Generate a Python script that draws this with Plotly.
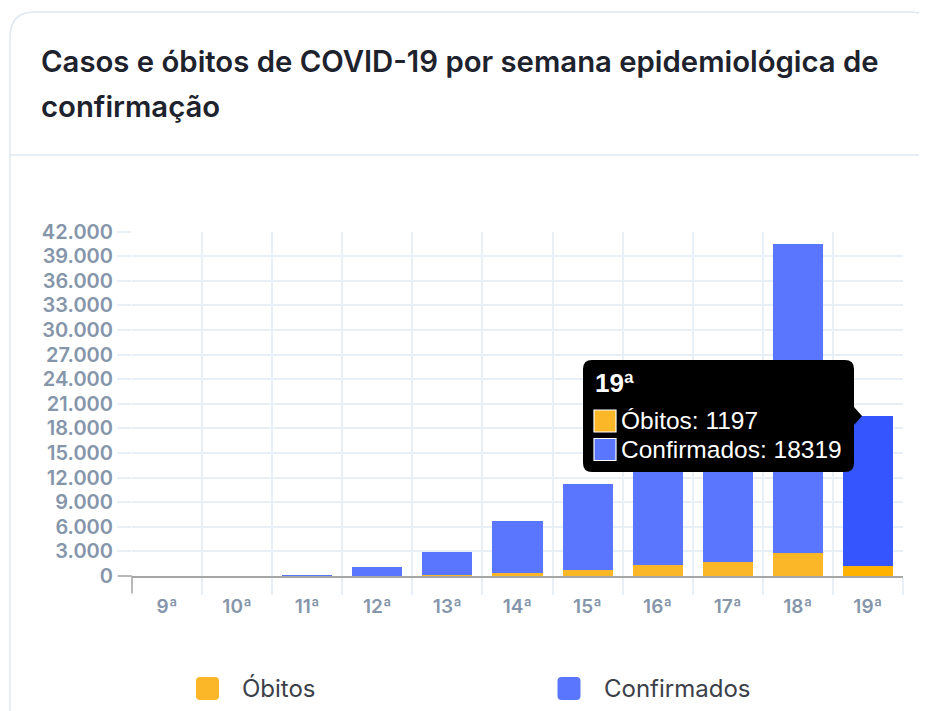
import plotly.graph_objects as go

# ---------------- data ----------------
semanas = ["9ª", "10ª", "11ª", "12ª", "13ª", "14ª", "15ª", "16ª", "17ª", "18ª", "19ª"]
obitos = [0, 0, 1, 10, 90, 320, 730, 1300, 1700, 2760, 1197]
confirmados = [2, 20, 110, 1100, 2870, 6380, 10430, 15900, 21900, 37740, 18319]
y_ticks = list(range(0, 42001, 3000))
series_names = ["Óbitos", "Confirmados"]
title_lines = ["Casos e óbitos de COVID-19 por semana epidemiológica de", "confirmação"]
tooltip_week = "19ª"

# ---------------- styling ----------------
PAGE_OFF = 8            # default body margin of the html page
W, H = 927 - PAGE_OFF, 711 - PAGE_OFF
ORANGE, ORANGE_H = "#fbb727", "#ffb300"
BLUE, BLUE_H = "#5b76fe", "#3556ff"
GRID = "#e9eff6"
AXIS = "#a6a6a6"
TICKC = "#8595aa"
CARD = "#dfe7f0"
LABEL_FONT = "Inter"


def fx(x):
    return (x - PAGE_OFF) / W


def fy(y):
    return 1 - (y - PAGE_OFF) / H


hi = semanas.index(tooltip_week)
ob_colors = [ORANGE_H if i == hi else ORANGE for i in range(len(semanas))]
cf_colors = [BLUE_H if i == hi else BLUE for i in range(len(semanas))]

fig = go.Figure()
fig.add_trace(go.Bar(x=semanas, y=obitos, name=series_names[0],
                     marker=dict(color=ob_colors, line=dict(width=0)),
                     hoverinfo="skip"))
fig.add_trace(go.Bar(x=semanas, y=confirmados, name=series_names[1],
                     marker=dict(color=cf_colors, line=dict(width=0)),
                     hoverinfo="skip"))

shapes = []
# card border (rounded rect, extends past right edge / bottom)
r = 25
x0, y0, x1, y1 = 10, 12, 935, 736
card_path = (f"M{fx(x0)},{fy(y1 - r)} L{fx(x0)},{fy(y0 + r)} Q{fx(x0)},{fy(y0)} {fx(x0 + r)},{fy(y0)} "
             f"L{fx(x1 - r)},{fy(y0)} Q{fx(x1)},{fy(y0)} {fx(x1)},{fy(y0 + r)} "
             f"L{fx(x1)},{fy(y1 - r)} Q{fx(x1)},{fy(y1)} {fx(x1 - r)},{fy(y1)} "
             f"L{fx(x0 + r)},{fy(y1)} Q{fx(x0)},{fy(y1)} {fx(x0)},{fy(y1 - r)} Z")
shapes.append(dict(type="path", xref="paper", yref="paper", path=card_path,
                   line=dict(color=CARD, width=1.5), fillcolor="white", layer="below"))
# divider under title
shapes.append(dict(type="line", xref="paper", yref="paper", x0=fx(10), x1=fx(935), y0=fy(155), y1=fy(155),
                   line=dict(color=CARD, width=1.5), layer="below"))
# dark 0 tick and first x tick
shapes.append(dict(type="line", xref="paper", yref="paper", x0=fx(118), x1=fx(132), y0=fy(576), y1=fy(576),
                   line=dict(color=AXIS, width=1.5)))
shapes.append(dict(type="line", xref="paper", yref="paper", x0=fx(132), x1=fx(132), y0=fy(576), y1=fy(593),
                   line=dict(color=AXIS, width=1.5)))

# tooltip box with pointer
tx0, ty0, tx1, ty1, tr = 583, 360, 854, 472, 9
tip_x, tip_y, tip_h = 862, 416, 9
tt_path = (f"M{fx(tx0 + tr)},{fy(ty0)} L{fx(tx1 - tr)},{fy(ty0)} Q{fx(tx1)},{fy(ty0)} {fx(tx1)},{fy(ty0 + tr)} "
           f"L{fx(tx1)},{fy(tip_y - tip_h)} L{fx(tip_x)},{fy(tip_y)} L{fx(tx1)},{fy(tip_y + tip_h)} "
           f"L{fx(tx1)},{fy(ty1 - tr)} Q{fx(tx1)},{fy(ty1)} {fx(tx1 - tr)},{fy(ty1)} "
           f"L{fx(tx0 + tr)},{fy(ty1)} Q{fx(tx0)},{fy(ty1)} {fx(tx0)},{fy(ty1 - tr)} "
           f"L{fx(tx0)},{fy(ty0 + tr)} Q{fx(tx0)},{fy(ty0)} {fx(tx0 + tr)},{fy(ty0)} Z")
shapes.append(dict(type="path", xref="paper", yref="paper", path=tt_path,
                   line=dict(color="black", width=0), fillcolor="black", layer="above"))
for (cy, col) in [(421, ORANGE), (449.5, BLUE)]:
    shapes.append(dict(type="rect", xref="paper", yref="paper", x0=fx(594), x1=fx(616),
                       y0=fy(cy - 11), y1=fy(cy + 11), fillcolor=col,
                       line=dict(color="white", width=1.2), layer="above"))


# legend squares (rounded)
def rounded_sq(cx, cy, s, rr):
    a, b, c, d = cx - s / 2, cy - s / 2, cx + s / 2, cy + s / 2
    return (f"M{fx(a + rr)},{fy(b)} L{fx(c - rr)},{fy(b)} Q{fx(c)},{fy(b)} {fx(c)},{fy(b + rr)} "
            f"L{fx(c)},{fy(d - rr)} Q{fx(c)},{fy(d)} {fx(c - rr)},{fy(d)} L{fx(a + rr)},{fy(d)} "
            f"Q{fx(a)},{fy(d)} {fx(a)},{fy(d - rr)} L{fx(a)},{fy(b + rr)} Q{fx(a)},{fy(b)} {fx(a + rr)},{fy(b)} Z")


shapes.append(dict(type="path", xref="paper", yref="paper", path=rounded_sq(207.5, 688.5, 23, 4),
                   fillcolor=ORANGE, line=dict(width=0)))
shapes.append(dict(type="path", xref="paper", yref="paper", path=rounded_sq(569, 688.5, 23, 4),
                   fillcolor=BLUE, line=dict(width=0)))

annotations = []
# title
for i, (line, ycen) in enumerate(zip(title_lines, [62, 106])):
    annotations.append(dict(text=line, xref="paper", yref="paper", x=fx(39), y=fy(ycen),
                            xanchor="left", yanchor="middle", showarrow=False,
                            font=dict(family="Inter", size=29.3, color="#1d222d", weight=600)))
# legend text
for name, xl in zip(series_names, [240, 602]):
    annotations.append(dict(text=name, xref="paper", yref="paper", x=fx(xl), y=fy(688.5),
                            xanchor="left", yanchor="middle", showarrow=False,
                            font=dict(family="Inter", size=24, color="#3b4049", weight=400)))
# tooltip text
TT_FONT = "Liberation Sans, Arial"
annotations.append(dict(text=f"<b>{tooltip_week}</b>", xref="paper", yref="paper", x=fx(593), y=fy(383),
                        xanchor="left", yanchor="middle", showarrow=False,
                        font=dict(family=TT_FONT, size=26, color="white")))
annotations.append(dict(text=f"{series_names[0]}: {obitos[hi]}", xref="paper", yref="paper", x=fx(619),
                        y=fy(421), xanchor="left", yanchor="middle", showarrow=False,
                        font=dict(family=TT_FONT, size=24.5, color="white")))
annotations.append(dict(text=f"{series_names[1]}: {confirmados[hi]}", xref="paper", yref="paper", x=fx(619),
                        y=fy(449.5), xanchor="left", yanchor="middle", showarrow=False,
                        font=dict(family=TT_FONT, size=24.5, color="white")))

fig.update_layout(
    width=W, height=H,
    margin=dict(l=0, r=0, t=0, b=0),
    paper_bgcolor="white", plot_bgcolor="rgba(0,0,0,0)",
    barmode="stack", bargap=0.285,
    separators=",.",
    showlegend=False,
    shapes=shapes, annotations=annotations,
    xaxis=dict(domain=[fx(132), fx(903)], type="category", tickson="boundaries",
               showgrid=True, gridcolor=GRID, gridwidth=1.5,
               ticks="outside", ticklen=17, tickcolor=GRID, tickwidth=1.5,
               showline=True, linecolor=AXIS, linewidth=1.5,
               ticklabelstandoff=12,
               tickfont=dict(family=LABEL_FONT, size=19, color=TICKC, weight=600),
               automargin=False, fixedrange=True),
    yaxis=dict(domain=[fy(576), fy(231.5)], range=[0, 42000], tickvals=y_ticks, tickformat=",d",
               showgrid=True, gridcolor=GRID, gridwidth=1.5, zeroline=False, showline=False,
               ticks="outside", ticklen=14, tickcolor=GRID, tickwidth=1.5,
               tickfont=dict(family=LABEL_FONT, size=20, color=TICKC, weight=600),
               automargin=False, fixedrange=True),
)

fig.write_html("out.html")
